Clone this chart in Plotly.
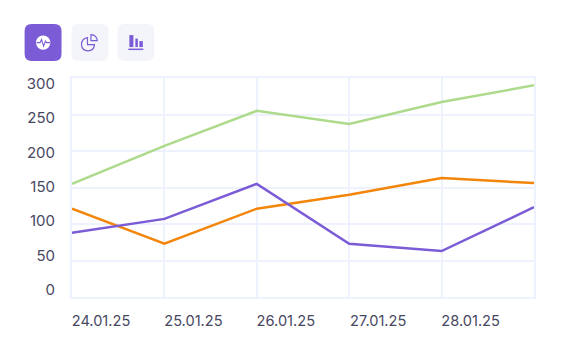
import plotly.graph_objects as go

dates = ["24.01.25", "25.01.25", "26.01.25", "27.01.25", "28.01.25", "29.01.25"]
tick_dates = dates[:5]
green = [155, 207, 255, 237, 267, 290]
orange = [121, 73, 121, 140, 163, 156]
purple = [88, 107, 155, 73, 63, 123]
y_ticks = [0, 50, 100, 150, 200, 250, 300]

OFF = 8  # the page body margin
W, H = 572 - OFF, 352 - OFF
L, R, T, B = 71.5, 534.5, 78, 297.5
INK = "#484862"
GRID = "#EDF2FE"
VIOLET = "#7B5CD6"
PALE = "#F4F5FA"

fig = go.Figure()
for vals, col in ((green, "#AEDA8C"), (orange, "#F3860A"), (purple, VIOLET)):
    fig.add_trace(go.Scatter(x=dates, y=vals, mode="lines", line=dict(color=col, width=2.5),
                             showlegend=False, cliponaxis=False))
# Carrier for the label axis: the labels sit closer together than the grid lines
fig.add_trace(go.Scatter(x=dates[:1] * len(y_ticks), y=y_ticks, mode="lines", yaxis="y2", opacity=0,
                         line=dict(width=0), showlegend=False, hoverinfo="skip"))


def px(x):
    return (x - L) / (R - L)


def py(y):
    return (B - y) / (B - T)


def P(*pts):
    return " ".join(f"{px(p[0]):.5f},{py(p[1]):.5f}" for p in pts)


def rounded(x0, y0, x1, y1, r, fill):
    path = "M" + P((x0 + r, y0)) + " L" + P((x1 - r, y0)) + " Q" + P((x1, y0), (x1, y0 + r)) + \
           " L" + P((x1, y1 - r)) + " Q" + P((x1, y1), (x1 - r, y1)) + \
           " L" + P((x0 + r, y1)) + " Q" + P((x0, y1), (x0, y1 - r)) + \
           " L" + P((x0, y0 + r)) + " Q" + P((x0, y0), (x0 + r, y0)) + " Z"
    return dict(type="path", xref="paper", yref="paper", path=path, fillcolor=fill, line=dict(width=0))


def circle(cx, cy, r, fill):
    return dict(type="circle", xref="paper", yref="paper", x0=px(cx - r), x1=px(cx + r),
                y0=py(cy + r), y1=py(cy - r), fillcolor=fill, line=dict(width=0))


def stroke(path, col=VIOLET, w=1.4, fill="rgba(0,0,0,0)"):
    return dict(type="path", xref="paper", yref="paper", path=path, fillcolor=fill,
                line=dict(color=col, width=w))


def bar(x0, y0, x1, y1):
    return dict(type="rect", xref="paper", yref="paper", x0=px(x0), x1=px(x1), y0=py(y1), y1=py(y0),
                fillcolor=VIOLET, line=dict(width=0))


shapes = [
    rounded(24, 24, 61, 61, 7, VIOLET),
    rounded(71, 24, 108, 61, 7, PALE),
    rounded(117, 24, 154, 61, 7, PALE),
    circle(42.6, 42.5, 7.2, "white"),
    stroke("M" + P((36, 42.5)) + " L" + P((39.5, 42.5)) + " L" + P((41, 39.5)) + " L" + P((43, 46)) +
           " L" + P((45, 41)) + " L" + P((46, 42.5)) + " L" + P((49.5, 42.5)), w=1.1),
    stroke("M" + P((87, 37.5)) + " Q" + P((81, 38.5), (81, 44.5)) + " Q" + P((81.5, 50.5), (87.5, 50.8)) +
           " Q" + P((93.5, 50.5), (94, 44.5)) + " L" + P((87, 44.5)) + " Z", w=1.2),
    stroke("M" + P((90.5, 34.5)) + " Q" + P((96.5, 35), (96.8, 40.5)) + " L" + P((90.5, 40.5)) + " Z", w=1.2),
    bar(129, 35, 133, 47),
    bar(135, 38.5, 137.5, 47),
    bar(139, 41, 142.5, 47),
    bar(128, 48.5, 143, 50),
]

fig.update_layout(
    width=W, height=H, autosize=False,
    margin=dict(l=L - OFF, r=W - (R - OFF), t=T - OFF, b=H - (B - OFF)),
    paper_bgcolor="white", plot_bgcolor="white",
    font=dict(family="Inter, sans-serif", size=14, color=INK),
    shapes=shapes,
    xaxis=dict(type="category", categoryorder="array", categoryarray=dates, range=[0, 5], tickmode="array",
               tickvals=tick_dates, ticktext=tick_dates,
               showgrid=True, gridcolor=GRID, gridwidth=2, showline=True, linecolor=GRID, linewidth=2,
               mirror=True, zeroline=False, ticks="", ticklabelshift=29, ticklabelstandoff=9,
               tickfont=dict(size=14.6, color=INK)),
    yaxis=dict(range=[0, 300], tickmode="array", tickvals=y_ticks, showgrid=True, gridcolor=GRID, gridwidth=1.5,
               showline=True, linecolor=GRID, linewidth=2, mirror=True, zeroline=False, ticks="",
               showticklabels=False),
    yaxis2=dict(overlaying="y", side="left", anchor="x", range=[-10.9, 308.7], tickmode="array",
                tickvals=y_ticks, showgrid=False, zeroline=False, showline=False, ticks="",
                ticklabelstandoff=16, tickfont=dict(size=15, color=INK)),
)
fig.write_html("out.html", config=dict(displayModeBar=False))
